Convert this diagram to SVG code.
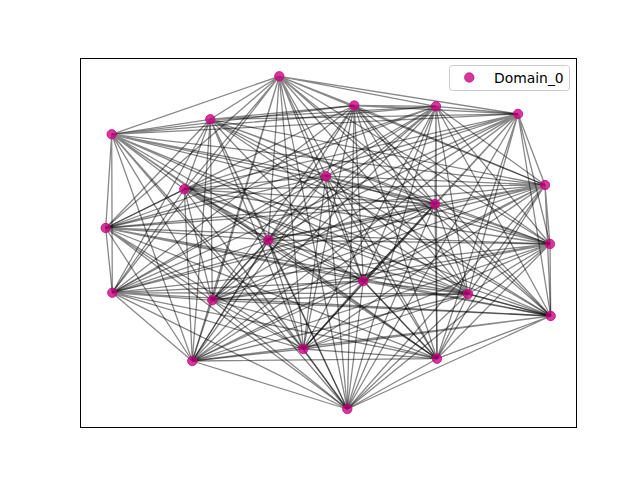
<svg xmlns="http://www.w3.org/2000/svg" width="640" height="480" viewBox="0 0 640 480">
<style>
.e{fill:none;stroke:#000;stroke-opacity:0.47;stroke-width:1.3}
.n{fill:#c8007f;fill-opacity:0.78;stroke:#c8007f;stroke-opacity:0.78;stroke-width:1}
.t{font-family:"DejaVu Sans",sans-serif;font-size:13.9px;fill:#000}
</style>
<rect width="640" height="480" fill="#fff"/>
<g id="connectors">
<path class="e" d="M279.3 76.3L210.3 119.3M279.3 76.3L111.7 134.3M279.3 76.3L354.3 105.5M279.3 76.3L436 106.3M279.3 76.3L518 114M279.3 76.3L545 185M279.3 76.3L326 176.2M279.3 76.3L184.3 189.3M279.3 76.3L435 204M279.3 76.3L105.7 228M279.3 76.3L268.3 240M279.3 76.3L550 244M279.3 76.3L112.3 292.7M279.3 76.3L212.3 300.3M279.3 76.3L363.3 281M279.3 76.3L468 294M279.3 76.3L550.7 316M279.3 76.3L303.3 349M279.3 76.3L192.3 361M279.3 76.3L437 358.7M279.3 76.3L347.3 409"/>
<path class="e" d="M210.3 119.3L111.7 134.3M210.3 119.3L354.3 105.5M210.3 119.3L436 106.3M210.3 119.3L518 114M210.3 119.3L545 185M210.3 119.3L326 176.2M210.3 119.3L184.3 189.3M210.3 119.3L435 204M210.3 119.3L105.7 228M210.3 119.3L268.3 240M210.3 119.3L550 244M210.3 119.3L112.3 292.7M210.3 119.3L212.3 300.3M210.3 119.3L363.3 281M210.3 119.3L468 294M210.3 119.3L550.7 316M210.3 119.3L303.3 349M210.3 119.3L192.3 361M210.3 119.3L437 358.7M210.3 119.3L347.3 409"/>
<path class="e" d="M111.7 134.3L354.3 105.5M111.7 134.3L436 106.3M111.7 134.3L518 114M111.7 134.3L545 185M111.7 134.3L326 176.2M111.7 134.3L184.3 189.3M111.7 134.3L435 204M111.7 134.3L105.7 228M111.7 134.3L268.3 240M111.7 134.3L550 244M111.7 134.3L112.3 292.7M111.7 134.3L212.3 300.3M111.7 134.3L363.3 281M111.7 134.3L468 294M111.7 134.3L550.7 316M111.7 134.3L303.3 349M111.7 134.3L192.3 361M111.7 134.3L437 358.7M111.7 134.3L347.3 409"/>
<path class="e" d="M354.3 105.5L436 106.3M354.3 105.5L518 114M354.3 105.5L545 185M354.3 105.5L326 176.2M354.3 105.5L184.3 189.3M354.3 105.5L435 204M354.3 105.5L105.7 228M354.3 105.5L268.3 240M354.3 105.5L550 244M354.3 105.5L112.3 292.7M354.3 105.5L212.3 300.3M354.3 105.5L363.3 281M354.3 105.5L468 294M354.3 105.5L550.7 316M354.3 105.5L303.3 349M354.3 105.5L192.3 361M354.3 105.5L437 358.7M354.3 105.5L347.3 409"/>
<path class="e" d="M436 106.3L518 114M436 106.3L545 185M436 106.3L326 176.2M436 106.3L184.3 189.3M436 106.3L435 204M436 106.3L105.7 228M436 106.3L268.3 240M436 106.3L550 244M436 106.3L112.3 292.7M436 106.3L212.3 300.3M436 106.3L363.3 281M436 106.3L468 294M436 106.3L550.7 316M436 106.3L303.3 349M436 106.3L192.3 361M436 106.3L437 358.7M436 106.3L347.3 409"/>
<path class="e" d="M518 114L545 185M518 114L326 176.2M518 114L184.3 189.3M518 114L435 204M518 114L105.7 228M518 114L268.3 240M518 114L550 244M518 114L112.3 292.7M518 114L212.3 300.3M518 114L363.3 281M518 114L468 294M518 114L550.7 316M518 114L303.3 349M518 114L192.3 361M518 114L437 358.7M518 114L347.3 409"/>
<path class="e" d="M545 185L326 176.2M545 185L184.3 189.3M545 185L435 204M545 185L105.7 228M545 185L268.3 240M545 185L550 244M545 185L112.3 292.7M545 185L212.3 300.3M545 185L363.3 281M545 185L468 294M545 185L550.7 316M545 185L303.3 349M545 185L192.3 361M545 185L437 358.7M545 185L347.3 409"/>
<path class="e" d="M326 176.2L184.3 189.3M326 176.2L435 204M326 176.2L105.7 228M326 176.2L268.3 240M326 176.2L550 244M326 176.2L112.3 292.7M326 176.2L212.3 300.3M326 176.2L363.3 281M326 176.2L468 294M326 176.2L550.7 316M326 176.2L303.3 349M326 176.2L192.3 361M326 176.2L437 358.7M326 176.2L347.3 409"/>
<path class="e" d="M184.3 189.3L435 204M184.3 189.3L105.7 228M184.3 189.3L268.3 240M184.3 189.3L550 244M184.3 189.3L112.3 292.7M184.3 189.3L212.3 300.3M184.3 189.3L363.3 281M184.3 189.3L468 294M184.3 189.3L550.7 316M184.3 189.3L303.3 349M184.3 189.3L192.3 361M184.3 189.3L437 358.7M184.3 189.3L347.3 409"/>
<path class="e" d="M435 204L105.7 228M435 204L268.3 240M435 204L550 244M435 204L112.3 292.7M435 204L212.3 300.3M435 204L363.3 281M435 204L468 294M435 204L550.7 316M435 204L303.3 349M435 204L192.3 361M435 204L437 358.7M435 204L347.3 409"/>
<path class="e" d="M105.7 228L268.3 240M105.7 228L550 244M105.7 228L112.3 292.7M105.7 228L212.3 300.3M105.7 228L363.3 281M105.7 228L468 294M105.7 228L550.7 316M105.7 228L303.3 349M105.7 228L192.3 361M105.7 228L437 358.7M105.7 228L347.3 409"/>
<path class="e" d="M268.3 240L550 244M268.3 240L112.3 292.7M268.3 240L212.3 300.3M268.3 240L363.3 281M268.3 240L468 294M268.3 240L550.7 316M268.3 240L303.3 349M268.3 240L192.3 361M268.3 240L437 358.7M268.3 240L347.3 409"/>
<path class="e" d="M550 244L112.3 292.7M550 244L212.3 300.3M550 244L363.3 281M550 244L468 294M550 244L550.7 316M550 244L303.3 349M550 244L192.3 361M550 244L437 358.7M550 244L347.3 409"/>
<path class="e" d="M112.3 292.7L212.3 300.3M112.3 292.7L363.3 281M112.3 292.7L468 294M112.3 292.7L550.7 316M112.3 292.7L303.3 349M112.3 292.7L192.3 361M112.3 292.7L437 358.7M112.3 292.7L347.3 409"/>
<path class="e" d="M212.3 300.3L363.3 281M212.3 300.3L468 294M212.3 300.3L550.7 316M212.3 300.3L303.3 349M212.3 300.3L192.3 361M212.3 300.3L437 358.7M212.3 300.3L347.3 409"/>
<path class="e" d="M363.3 281L468 294M363.3 281L550.7 316M363.3 281L303.3 349M363.3 281L192.3 361M363.3 281L437 358.7M363.3 281L347.3 409"/>
<path class="e" d="M468 294L550.7 316M468 294L303.3 349M468 294L192.3 361M468 294L437 358.7M468 294L347.3 409"/>
<path class="e" d="M550.7 316L303.3 349M550.7 316L192.3 361M550.7 316L437 358.7M550.7 316L347.3 409"/>
<path class="e" d="M303.3 349L192.3 361M303.3 349L437 358.7M303.3 349L347.3 409"/>
<path class="e" d="M192.3 361L437 358.7M192.3 361L347.3 409"/>
<path class="e" d="M437 358.7L347.3 409"/>
</g>
<g id="n0"><circle class="n" cx="279.3" cy="76.3" r="4.7"/></g>
<g id="n1"><circle class="n" cx="210.3" cy="119.3" r="4.7"/></g>
<g id="n2"><circle class="n" cx="111.7" cy="134.3" r="4.7"/></g>
<g id="n3"><circle class="n" cx="354.3" cy="105.5" r="4.7"/></g>
<g id="n4"><circle class="n" cx="436" cy="106.3" r="4.7"/></g>
<g id="n5"><circle class="n" cx="518" cy="114" r="4.7"/></g>
<g id="n6"><circle class="n" cx="545" cy="185" r="4.7"/></g>
<g id="n7"><circle class="n" cx="326" cy="176.2" r="4.7"/></g>
<g id="n8"><circle class="n" cx="184.3" cy="189.3" r="4.7"/></g>
<g id="n9"><circle class="n" cx="435" cy="204" r="4.7"/></g>
<g id="n10"><circle class="n" cx="105.7" cy="228" r="4.7"/></g>
<g id="n11"><circle class="n" cx="268.3" cy="240" r="4.7"/></g>
<g id="n12"><circle class="n" cx="550" cy="244" r="4.7"/></g>
<g id="n13"><circle class="n" cx="112.3" cy="292.7" r="4.7"/></g>
<g id="n14"><circle class="n" cx="212.3" cy="300.3" r="4.7"/></g>
<g id="n15"><circle class="n" cx="363.3" cy="281" r="4.7"/></g>
<g id="n16"><circle class="n" cx="468" cy="294" r="4.7"/></g>
<g id="n17"><circle class="n" cx="550.7" cy="316" r="4.7"/></g>
<g id="n18"><circle class="n" cx="303.3" cy="349" r="4.7"/></g>
<g id="n19"><circle class="n" cx="192.3" cy="361" r="4.7"/></g>
<g id="n20"><circle class="n" cx="437" cy="358.7" r="4.7"/></g>
<g id="n21"><circle class="n" cx="347.3" cy="409" r="4.7"/></g>
<rect x="80.5" y="58.5" width="496" height="369" fill="none" stroke="#000" stroke-width="1"/>
<g id="legend">
<rect x="449.5" y="65.5" width="120" height="25" rx="3" fill="#fff" fill-opacity="0.8" stroke="#ccc" stroke-width="1"/>
<circle class="n" cx="469.3" cy="77.5" r="4.7"/>
<text class="t" x="494" y="82.5">Domain_0</text>
</g>
</svg>
